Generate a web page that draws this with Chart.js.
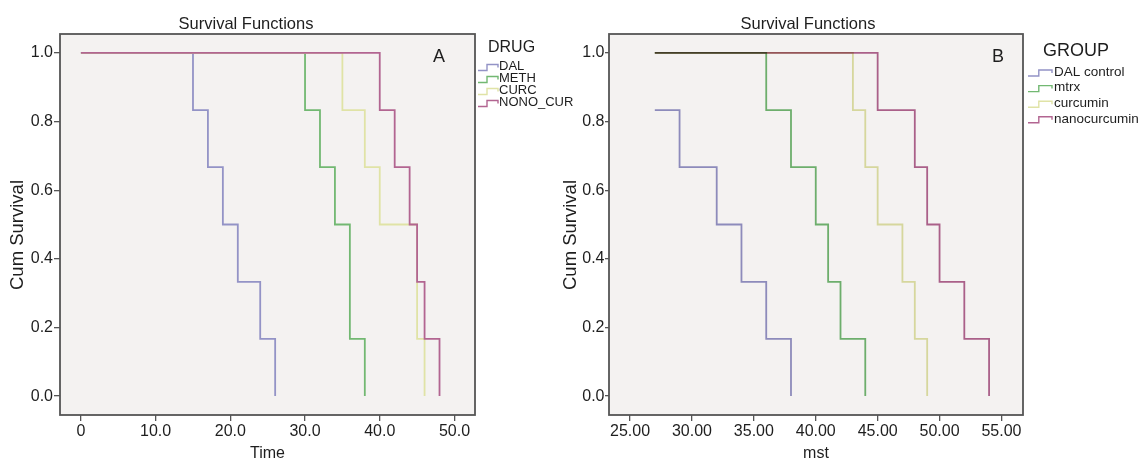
<!DOCTYPE html>
<html><head><meta charset="utf-8">
<script src="https://cdn.jsdelivr.net/npm/chart.js@4.4.1/dist/chart.umd.min.js"></script>
<style>
html,body{margin:0;padding:0;background:#fff;}
#wrap{position:relative;width:1141px;height:462px;overflow:hidden;background:#fff;}
#cA{position:absolute;left:0;top:0;}
#cB{position:absolute;left:555px;top:0;}
</style></head><body>
<div id="wrap"><canvas id="cA" width="600" height="462"></canvas><canvas id="cB" width="586" height="462"></canvas></div>
<script>
// ---------- Panel A data (Time) ----------
const groupsA = ['DAL', 'METH', 'CURC', 'NONO_CUR'];
const dalTimeA  = [0, 15, 17, 19, 21, 24, 26];
const dalSurvA  = [1, 0.833, 0.667, 0.5, 0.333, 0.167, 0];
const methTimeA = [0, 30, 32, 34, 36, 38];
const methSurvA = [1, 0.833, 0.667, 0.5, 0.167, 0];
const curcTimeA = [0, 35, 38, 40, 45, 46];
const curcSurvA = [1, 0.833, 0.667, 0.5, 0.167, 0];
const nanoTimeA = [0, 40, 42, 44, 45, 46, 48];
const nanoSurvA = [1, 0.833, 0.667, 0.5, 0.333, 0.167, 0];
const xTickValuesA = [0, 10, 20, 30, 40, 50];
const xTickLabelsA = ['0', '10.0', '20.0', '30.0', '40.0', '50.0'];

// ---------- Panel B data (mst) ----------
const groupsB = ['DAL control', 'mtrx', 'curcumin', 'nanocurcumin'];
const dalTimeB  = [27, 29, 32, 34, 36, 38];
const dalSurvB  = [0.833, 0.667, 0.5, 0.333, 0.167, 0];
const mtrxTimeB = [27, 36, 38, 40, 41, 42, 44];
const mtrxSurvB = [1, 0.833, 0.667, 0.5, 0.333, 0.167, 0];
const curcTimeB = [27, 43, 44, 45, 47, 48, 49];
const curcSurvB = [1, 0.833, 0.667, 0.5, 0.333, 0.167, 0];
const nanoTimeB = [27, 45, 48, 49, 50, 52, 54];
const nanoSurvB = [1, 0.833, 0.667, 0.5, 0.333, 0.167, 0];
const xTickValuesB = [25, 30, 35, 40, 45, 50, 55];
const xTickLabelsB = ['25.00', '30.00', '35.00', '40.00', '45.00', '50.00', '55.00'];

const yTickValues = [0, 0.2, 0.4, 0.6, 0.8, 1.0];
const yTickLabels = ['0.0', '0.2', '0.4', '0.6', '0.8', '1.0'];

const colors = ['#9393c6', '#72b872', '#e0e3a6', '#b26591'];
const FONT = '"Liberation Sans", Arial, Helvetica, sans-serif';
Chart.defaults.font.family = FONT;
Chart.defaults.color = '#1e1e1e';

function pts(t, s) { return t.map((v, i) => ({ x: v, y: s[i] })); }

function glyph(ctx, x, y, w, color) {
  ctx.save();
  ctx.strokeStyle = color; ctx.lineWidth = 1.4;
  ctx.beginPath();
  ctx.moveTo(x, y + 3);
  ctx.lineTo(x + w * 0.45, y + 3);
  ctx.lineTo(x + w * 0.45, y - 3);
  ctx.lineTo(x + w, y - 3);
  ctx.lineTo(x + w, y);
  ctx.stroke();
  ctx.restore();
}

const decor = {
  id: 'decor',
  beforeDraw(chart, args, o) {
    const { ctx, chartArea: a } = chart;
    ctx.save();
    ctx.fillStyle = '#f4f2f1';
    ctx.fillRect(a.left, a.top, a.right - a.left, a.bottom - a.top);
    ctx.restore();
  },
  beforeDatasetsDraw(chart, args, o) {
    if (o.multiply) { chart.ctx.save(); chart.ctx.globalCompositeOperation = 'multiply'; }
  },
  afterDatasetsDraw(chart, args, o) {
    if (o.multiply) { chart.ctx.restore(); }
  },
  afterDraw(chart, args, o) {
    const { ctx, chartArea: a } = chart;
    ctx.save();
    ctx.strokeStyle = '#555555'; ctx.lineWidth = 1.8;
    ctx.strokeRect(a.left, a.top, a.right - a.left, a.bottom - a.top);
    ctx.fillStyle = '#1e1e1e';
    ctx.textBaseline = 'middle';
    // title
    ctx.font = '16.5px ' + FONT; ctx.textAlign = 'center';
    ctx.fillText(o.title, o.titleX, o.titleY);
    // panel letter
    ctx.font = '18px ' + FONT;
    ctx.fillText(o.letter, o.letterX, o.letterY);
    // y axis title
    ctx.save();
    ctx.translate(o.yTitleX, o.yTitleY);
    ctx.rotate(-Math.PI / 2);
    ctx.font = '18.5px ' + FONT;
    ctx.fillText('Cum Survival', 0, 0);
    ctx.restore();
    // legend
    ctx.textAlign = 'left';
    ctx.font = o.legTitleSize + 'px ' + FONT;
    ctx.fillText(o.legTitle, o.legX, o.legTitleY);
    ctx.font = o.itemSize + 'px ' + FONT;
    o.items.forEach((name, i) => {
      const y = o.itemY0 + i * o.itemDy;
      glyph(ctx, o.glyphX, y + 1, o.glyphW, colors[i]);
      ctx.fillStyle = '#1e1e1e';
      ctx.fillText(name, o.textX, y);
    });
    ctx.restore();
  }
};

function makeChart(id, datasets, xmin, xmax, xTicks, xLabels, xTitle, yAxisW, padRight, tickLenY, tickPadY, decorOpts) {
  return new Chart(document.getElementById(id), {
    type: 'line',
    data: { datasets },
    plugins: [decor],
    options: {
      responsive: false, animation: false, devicePixelRatio: 1,
      layout: { padding: { left: 0, right: padRight, top: 34, bottom: 0 } },
      elements: { point: { radius: 0 }, line: { borderWidth: 1.8, tension: 0 } },
      plugins: { legend: { display: false }, tooltip: { enabled: false }, decor: decorOpts },
      scales: {
        x: {
          type: 'linear', min: xmin, max: xmax,
          afterBuildTicks: s => { s.ticks = xTicks.map(v => ({ value: v })); },
          afterFit: s => { s.height = 47; },
          ticks: { autoSkip: false, maxRotation: 0, padding: 1, font: { size: 16 }, color: '#1e1e1e',
                   callback: (v, i) => xLabels[i] },
          grid: { drawOnChartArea: false, drawTicks: true, tickLength: 6, color: '#555555', lineWidth: 1.3 },
          border: { display: false },
          title: { display: true, text: xTitle, font: { size: 16, lineHeight: 1 }, color: '#1e1e1e', padding: { top: 0, bottom: 0 } }
        },
        y: {
          type: 'linear', min: -0.055, max: 1.055,
          afterBuildTicks: s => { s.ticks = yTickValues.map(v => ({ value: v })); },
          afterFit: s => { s.width = yAxisW; },
          ticks: { autoSkip: false, padding: tickPadY, font: { size: 16 }, color: '#1e1e1e',
                   callback: (v, i) => yTickLabels[i] },
          grid: { drawOnChartArea: false, drawTicks: true, tickLength: tickLenY, color: '#555555', lineWidth: 1.3 },
          border: { display: false },
          title: { display: false }
        }
      }
    }
  });
}

// later groups drawn on top (lower order = drawn last in Chart.js)
const dsA = [
  pts(dalTimeA, dalSurvA), pts(methTimeA, methSurvA), pts(curcTimeA, curcSurvA), pts(nanoTimeA, nanoSurvA)
].map((d, i) => ({ label: groupsA[i], data: d, stepped: true, borderColor: colors[i], fill: false, order: 3 - i }));

const dsB = [
  pts(dalTimeB, dalSurvB), pts(mtrxTimeB, mtrxSurvB), pts(curcTimeB, curcSurvB), pts(nanoTimeB, nanoSurvB)
].map((d, i) => ({ label: groupsB[i], data: d, stepped: true, borderColor: colors[i], fill: false, order: 3 - i }));

makeChart('cA', dsA, -2.8, 52.75, xTickValuesA, xTickLabelsA, 'Time', 60, 125, 6, 1, {
  title: 'Survival Functions', titleX: 246, titleY: 24,
  letter: 'A', letterX: 439, letterY: 57,
  yTitleX: 18, yTitleY: 235, multiply: false,
  legTitle: 'DRUG', legTitleSize: 16, legX: 488, legTitleY: 48,
  items: groupsA, itemSize: 13, itemY0: 66.5, itemDy: 12,
  glyphX: 478, glyphW: 20, textX: 499
});

makeChart('cB', dsB, 23.3, 56.74, xTickValuesB, xTickLabelsB, 'mst', 54, 118, 4, 0.5, {
  title: 'Survival Functions', titleX: 253, titleY: 24,
  letter: 'B', letterX: 443, letterY: 57,
  yTitleX: 16, yTitleY: 235, multiply: true,
  legTitle: 'GROUP', legTitleSize: 18, legX: 488, legTitleY: 51,
  items: groupsB, itemSize: 13.5, itemY0: 72, itemDy: 15.6,
  glyphX: 473, glyphW: 24, textX: 499
});
</script>
</body></html>
